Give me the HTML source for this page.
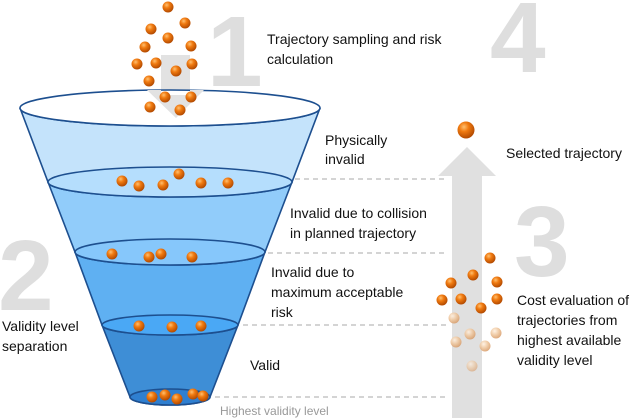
<!DOCTYPE html>
<html><head><style>body{margin:0;background:#fff}svg{display:block}text{font-family:"Liberation Sans",sans-serif}</style></head><body>
<svg width="640" height="418" viewBox="0 0 640 418" xmlns="http://www.w3.org/2000/svg">
<defs>
<radialGradient id="b" cx="0.38" cy="0.32" r="0.7"><stop offset="0" stop-color="#ffc070"/><stop offset="0.4" stop-color="#f07a10"/><stop offset="1" stop-color="#b04800"/></radialGradient>
<radialGradient id="f" cx="0.38" cy="0.32" r="0.7"><stop offset="0" stop-color="#fff0e0"/><stop offset="0.5" stop-color="#efc69c"/><stop offset="1" stop-color="#d79a66"/></radialGradient>
</defs>
<g fill="#dedede" font-weight="bold" font-size="100">
<text x="207" y="86">1</text><text x="-2" y="310">2</text><text x="514" y="276">3</text><text x="490" y="72">4</text>
</g>
<!-- down arrow -->
<polygon points="161,55 190,55 190,90 204,90 176,118 147,90 161,90" fill="#e2e2e2"/>
<!-- funnel -->
<g stroke="#1d4f8f" stroke-width="1.6">
<path d="M20,108 L48,182 A123,15 0 0 0 292,182 L320,108 A150,18 0 0 1 20,108Z" fill="#c4e3fb"/>
<path d="M48,182 L75,252 A96,13 0 0 0 265,252 L292,182 A122,15 0 0 1 48,182Z" fill="#91ccfa"/>
<ellipse cx="170" cy="182" rx="122" ry="15" fill="#b5defd"/>
<path d="M75,252 L102,325 A69,10 0 0 0 238,325 L265,252 A95,13 0 0 1 75,252Z" fill="#5fb0f2"/>
<ellipse cx="170" cy="252" rx="95" ry="13" fill="#86c7fb"/>
<path d="M102,325 L130,397 A40,8 0 0 0 210,397 L238,325 A68,10 0 0 1 102,325Z" fill="#3e8ed6"/>
<ellipse cx="170" cy="325" rx="68" ry="10" fill="#4aa8f5"/>
<ellipse cx="170" cy="397" rx="40" ry="8" fill="#2f7fd0"/>
<ellipse cx="170" cy="108" rx="150" ry="18" fill="#fff"/>
</g>
<polygon points="161,95 190,95 190,90 204,90 176,118 147,90 161,90" fill="#e2e2e2"/>
<!-- dashed -->
<g stroke="#aaa" stroke-dasharray="5,4" stroke-width="1">
<line x1="295" y1="179" x2="448" y2="179"/><line x1="268" y1="253" x2="445" y2="253"/>
<line x1="243" y1="325" x2="447" y2="325"/><line x1="215" y1="397" x2="447" y2="397"/>
</g>
<!-- up arrow -->
<polygon points="467,147 496,176 482,176 482,418 452,418 452,176 438,176" fill="#e0e0e0"/>
<!-- balls -->
<g fill="url(#b)">
<circle cx="168" cy="7" r="5.5"/><circle cx="185" cy="23" r="5.5"/><circle cx="151" cy="29" r="5.5"/><circle cx="168" cy="38" r="5.5"/><circle cx="145" cy="47" r="5.5"/><circle cx="191" cy="46" r="5.5"/><circle cx="137" cy="64" r="5.5"/><circle cx="156" cy="63" r="5.5"/><circle cx="192" cy="64" r="5.5"/><circle cx="176" cy="71" r="5.5"/><circle cx="149" cy="81" r="5.5"/><circle cx="165" cy="97" r="5.5"/><circle cx="191" cy="97" r="5.5"/><circle cx="150" cy="107" r="5.5"/><circle cx="180" cy="110" r="5.5"/>
<circle cx="122" cy="181" r="5.5"/><circle cx="139" cy="186" r="5.5"/><circle cx="163" cy="185" r="5.5"/><circle cx="179" cy="174" r="5.5"/><circle cx="201" cy="183" r="5.5"/><circle cx="228" cy="183" r="5.5"/>
<circle cx="112" cy="254" r="5.5"/><circle cx="149" cy="257" r="5.5"/><circle cx="161" cy="254" r="5.5"/><circle cx="192" cy="257" r="5.5"/>
<circle cx="139" cy="326" r="5.5"/><circle cx="172" cy="327" r="5.5"/><circle cx="201" cy="326" r="5.5"/>
<circle cx="152" cy="397" r="5.5"/><circle cx="165" cy="395" r="5.5"/><circle cx="177" cy="399" r="5.5"/><circle cx="193" cy="394" r="5.5"/><circle cx="203" cy="396" r="5.5"/>
<circle cx="466" cy="130" r="8.5"/>
<circle cx="490" cy="258" r="5.5"/><circle cx="473" cy="275" r="5.5"/><circle cx="497" cy="282" r="5.5"/><circle cx="451" cy="283" r="5.5"/><circle cx="442" cy="300" r="5.5"/><circle cx="461" cy="299" r="5.5"/><circle cx="497" cy="299" r="5.5"/><circle cx="481" cy="308" r="5.5"/>
</g>
<g fill="url(#f)" opacity="0.85">
<circle cx="454" cy="318" r="5.5"/><circle cx="470" cy="334" r="5.5"/><circle cx="496" cy="333" r="5.5"/><circle cx="456" cy="342" r="5.5"/><circle cx="485" cy="346" r="5.5"/><circle cx="472" cy="366" r="5.5" opacity="0.7"/>
</g>
<!-- text -->
<g font-size="14" fill="#111">
<text x="267" y="44">Trajectory sampling and risk</text><text x="267" y="64">calculation</text>
<text x="325" y="145">Physically</text><text x="325" y="164">invalid</text>
<text x="290" y="218">Invalid due to collision</text><text x="290" y="238">in planned trajectory</text>
<text x="271" y="277">Invalid due to</text><text x="271" y="297">maximum acceptable</text><text x="271" y="317">risk</text>
<text x="250" y="370">Valid</text>
<text x="2" y="331">Validity level</text><text x="2" y="351">separation</text>
<text x="506" y="158">Selected trajectory</text>
<text x="517" y="305">Cost evaluation of</text><text x="517" y="325">trajectories from</text><text x="517" y="345">highest available</text><text x="517" y="365">validity level</text>
</g>
<text x="220" y="415" font-size="12" fill="#999">Highest validity level</text>
</svg>
</body></html>
